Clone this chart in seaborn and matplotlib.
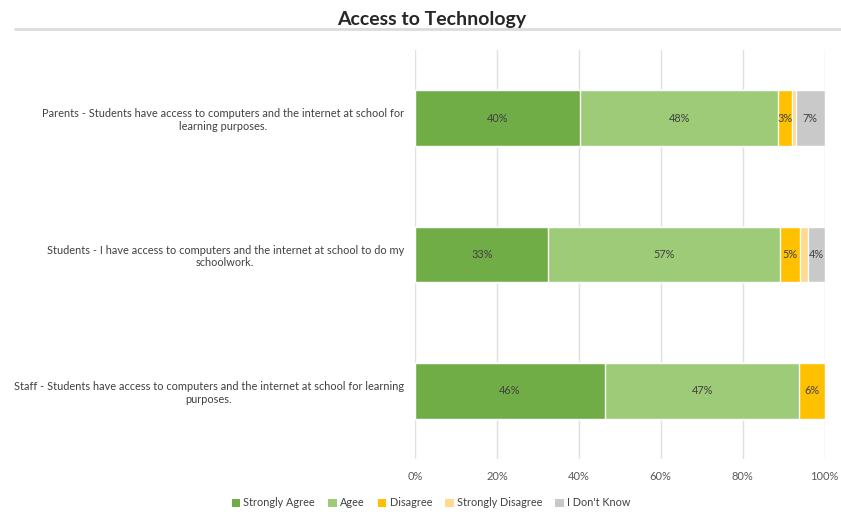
import pandas as pd
import seaborn as sns
import matplotlib.pyplot as plt
from matplotlib.lines import Line2D
from matplotlib.patches import Patch

# Dados (percentuais)
questions = [
    "Parents - Students have access to computers and the internet at school for\nlearning purposes.",
    "Students - I have access to computers and the internet at school to do my\nschoolwork.",
    "Staff - Students have access to computers and the internet at school for learning\npurposes.",
]
series = ["Strongly Agree", "Agee", "Disagree", "Strongly Disagree", "I Don't Know"]
strongly_agree = [40.3, 32.6, 46.4]
agree = [48.4, 56.6, 47.4]
disagree = [3.3, 4.8, 6.2]
strongly_disagree = [1.0, 2.0, 0.0]
dont_know = [7.0, 4.0, 0.0]
labels_shown = [True, True, True, False, True]
colors = ["#70AD47", "#9DCB78", "#FFC000", "#FFD98E", "#C9C9C9"]

df = pd.DataFrame({
    "question": questions,
    series[0]: strongly_agree,
    series[1]: agree,
    series[2]: disagree,
    series[3]: strongly_disagree,
    series[4]: dont_know,
})

# Somas acumuladas para empilhar
cum = df[series].cumsum(axis=1)

sns.set_theme(style="white")
plt.rcParams["font.family"] = ["Lato", "DejaVu Sans"]

fig = plt.figure(figsize=(8.41, 5.14), dpi=100)
ax = fig.add_axes([415 / 841, 1 - 459 / 514, 409.5 / 841, 409 / 514])

# Desenhar do maior acumulado para o menor (barras sobrepostas)
for s, c in reversed(list(zip(series, colors))):
    sns.barplot(x=cum[s], y=df["question"], orient="h", color=c, width=0.41,
                saturation=1, ax=ax, zorder=3)

# Rótulos nas barras
for i in range(len(df)):
    for j, s in enumerate(series):
        v = df.loc[i, s]
        if v <= 0 or not labels_shown[j]:
            continue
        center = cum.loc[i, s] - v / 2
        ax.text(center, i, f"{round(v):.0f}%", ha="center", va="center",
                fontsize=7.8, color="#404040", zorder=4)

ax.set_xlim(0, 100)
ax.set_ylim(2.5, -0.5)
ax.set_xticks(range(0, 101, 20))
ax.set_xticklabels([f"{t}%" for t in range(0, 101, 20)])
ax.xaxis.grid(True, color="#E0E0E0", lw=1, zorder=0)
ax.set_axisbelow(True)
for sp in ax.spines.values():
    sp.set_visible(False)
ax.set_xlabel("")
ax.set_ylabel("")
ax.tick_params(axis="x", length=0, pad=9, labelsize=8, labelcolor="#595959")
ax.tick_params(axis="y", length=0, pad=8, labelsize=7.9, labelcolor="#404040")
for t in ax.get_yticklabels():
    t.set_multialignment("center")

# Título com linha cinza
fig.add_artist(Line2D([15 / 841, 1], [1 - 28.5 / 514] * 2, color="#DCDCDC", lw=2,
                      transform=fig.transFigure))
fig.text(432 / 841, 1 - 20 / 514, "Access to Technology", ha="center", va="center",
         fontsize=14, fontweight="bold", color="#262626")

# Legenda
handles = [Patch(facecolor=c, edgecolor="none") for c in colors]
fig.legend(handles, series, loc="center", bbox_to_anchor=(431 / 841, 1 - 503 / 514),
           ncol=5, frameon=False, fontsize=7.8, handlelength=0.8, handleheight=0.8,
           handletextpad=0.3, columnspacing=1.2, labelcolor="#404040")

fig.savefig("out.png", dpi=100)
